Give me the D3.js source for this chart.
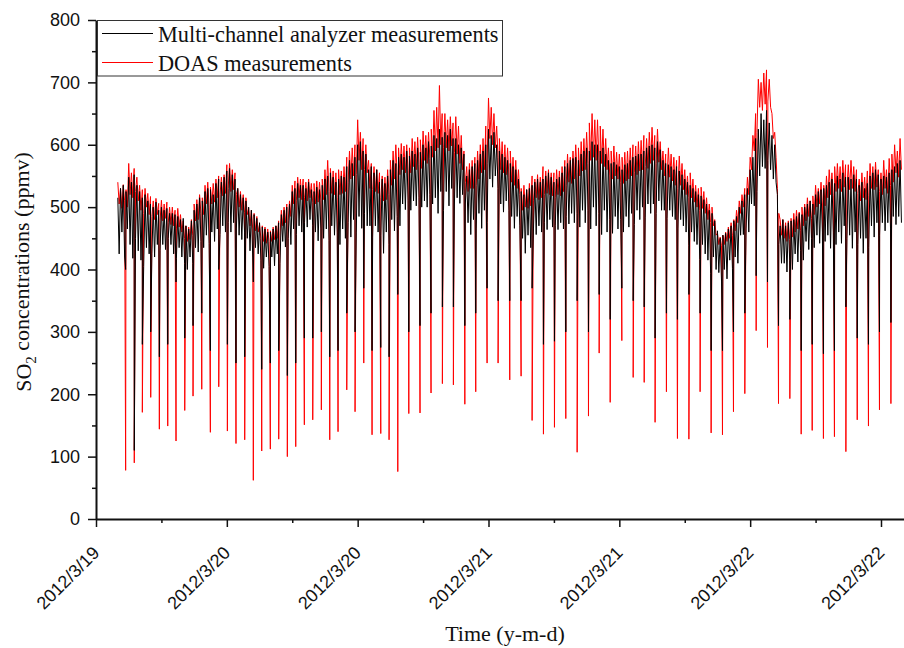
<!DOCTYPE html>
<html>
<head>
<meta charset="utf-8">
<script src="https://cdn.jsdelivr.net/npm/d3@7"></script>
<style>
  body { margin: 0; background: #fff; }
  svg { display: block; }
</style>
</head>
<body>
<div id="chart"></div>
<script>
'use strict'

// readings start at 2012/3/19 14:00, one value every 7.5 minutes (8 per hour)
var startTime = "2012-03-19T12:00:00";
var gridStartHour = 2;
var gridStepHour = 0.125;

var xTickTimes = ["2012-03-19T12:00:00", "2012-03-20T00:00:00", "2012-03-20T12:00:00",
                  "2012-03-21T00:00:00", "2012-03-21T12:00:00", "2012-03-22T00:00:00",
                  "2012-03-22T12:00:00"];
var yTicks = [0, 100, 200, 300, 400, 500, 600, 700, 800];

var seriesNames = ["Multi-channel analyzer measurements", "DOAS measurements"];

// Multi-channel analyzer, ppmv (one row per hour)
var multiVals = [
  515, 425, 530, 460, 535, 420, 525, 465,
  548, 440, 540, 418, 552, 450, 535, 430,
  525, 415, 515, 405, 520, 435, 510, 425,
  505, 425, 500, 420, 508, 440, 495, 430,
  500, 440, 495, 432, 498, 450, 490, 440,
  490, 425, 488, 418, 485, 435, 480, 420,
  482, 410, 470, 400, 465, 420, 478, 410,
  495, 435, 505, 428, 515, 445, 510, 435,
  525, 455, 530, 442, 528, 460, 520, 445,
  538, 465, 545, 456, 540, 470, 548, 460,
  558, 475, 562, 460, 552, 475, 545, 465,
  530, 455, 520, 448, 515, 460, 510, 450,
  500, 430, 495, 420, 488, 435, 482, 425,
  475, 415, 468, 402, 465, 420, 460, 405,
  460, 420, 465, 406, 470, 425, 475, 410,
  488, 445, 495, 436, 500, 450, 505, 440,
  525, 465, 530, 456, 538, 470, 535, 460,
  535, 475, 530, 468, 540, 480, 528, 470,
  525, 460, 532, 446, 528, 465, 535, 450,
  545, 465, 550, 446, 555, 470, 548, 455,
  540, 460, 545, 440, 550, 465, 548, 450,
  565, 475, 575, 452, 570, 480, 580, 460,
  600, 485, 605, 466, 590, 490, 585, 470,
  560, 470, 565, 452, 555, 470, 560, 460,
  540, 455, 545, 426, 538, 460, 550, 440,
  560, 480, 575, 462, 570, 485, 580, 470,
  585, 505, 580, 496, 590, 510, 582, 495,
  590, 510, 585, 502, 595, 515, 588, 500,
  600, 510, 595, 500, 605, 520, 598, 505,
  615, 515, 610, 490, 625, 525, 612, 495,
  620, 525, 615, 502, 625, 530, 610, 505,
  610, 515, 600, 506, 595, 520, 585, 505,
  550, 475, 560, 456, 565, 480, 570, 465,
  575, 490, 585, 466, 590, 495, 600, 475,
  625, 545, 615, 532, 620, 550, 600, 530,
  590, 505, 585, 492, 580, 510, 575, 495,
  570, 485, 565, 466, 560, 485, 545, 470,
  525, 450, 520, 426, 528, 455, 530, 435,
  535, 465, 540, 456, 545, 470, 540, 460,
  545, 475, 550, 464, 555, 480, 548, 468,
  540, 470, 545, 464, 548, 475, 555, 465,
  565, 485, 570, 473, 575, 490, 578, 475,
  580, 490, 575, 468, 585, 495, 590, 475,
  595, 495, 590, 465, 605, 500, 600, 470,
  600, 490, 590, 456, 595, 495, 585, 460,
  575, 480, 570, 458, 572, 485, 568, 465,
  565, 480, 560, 460, 568, 485, 570, 468,
  575, 490, 580, 472, 582, 495, 585, 480,
  585, 500, 590, 484, 595, 505, 598, 490,
  600, 505, 595, 490, 605, 510, 592, 495,
  575, 495, 570, 482, 568, 495, 565, 485,
  560, 480, 565, 465, 558, 480, 552, 470,
  545, 460, 540, 438, 535, 460, 530, 445,
  525, 440, 520, 416, 518, 440, 512, 425,
  505, 415, 495, 394, 490, 420, 478, 400,
  462, 395, 450, 380, 455, 400, 458, 385,
  465, 415, 470, 402, 478, 420, 485, 410,
  500, 455, 510, 456, 520, 465, 530, 460,
  560, 505, 580, 502, 610, 525, 625, 550,
  650, 565, 640, 562, 655, 575, 635, 560,
  615, 545, 600, 540, 520, 440, 470, 410,
  480, 410, 470, 396, 475, 415, 478, 400,
  480, 425, 485, 412, 490, 430, 488, 415,
  500, 445, 505, 432, 510, 450, 505, 435,
  520, 455, 525, 442, 528, 460, 530, 445,
  535, 455, 540, 434, 545, 460, 538, 440,
  550, 460, 545, 442, 555, 470, 548, 450,
  548, 455, 545, 434, 552, 460, 545, 440,
  535, 450, 540, 426, 530, 450, 538, 435,
  550, 470, 555, 452, 560, 475, 552, 455,
  545, 475, 550, 462, 548, 475, 555, 465,
  560, 485, 565, 472, 570, 485, 575, 475
];

// DOAS, ppmv (one row per hour)
var doasVals = [
  540, 505, 530, 498, 536, 510, 528, 500,
  570, 520, 555, 515, 562, 525, 548, 510,
  535, 495, 528, 490, 530, 500, 522, 488,
  517, 485, 510, 480, 514, 488, 506, 478,
  511, 478, 505, 482, 508, 475, 500, 472,
  500, 470, 495, 465, 498, 468, 488, 460,
  478, 450, 470, 445, 468, 448, 480, 455,
  505, 478, 512, 480, 520, 490, 515, 488,
  535, 505, 540, 500, 532, 505, 538, 508,
  545, 515, 550, 520, 548, 518, 552, 522,
  568, 530, 570, 525, 560, 528, 555, 520,
  530, 500, 525, 495, 520, 492, 515, 488,
  498, 470, 495, 465, 490, 462, 485, 460,
  472, 450, 470, 445, 468, 442, 465, 445,
  462, 445, 468, 448, 470, 450, 478, 455,
  495, 470, 500, 475, 505, 478, 510, 485,
  535, 505, 542, 510, 548, 515, 545, 512,
  545, 515, 540, 510, 545, 515, 538, 508,
  538, 505, 542, 508, 540, 510, 545, 512,
  560, 520, 575, 525, 562, 522, 558, 520,
  555, 515, 560, 520, 558, 522, 565, 525,
  580, 540, 590, 545, 595, 550, 600, 552,
  640, 575, 620, 560, 610, 560, 600, 555,
  575, 530, 570, 528, 565, 525, 560, 522,
  555, 515, 550, 510, 548, 512, 560, 520,
  575, 535, 590, 545, 600, 550, 595, 552,
  602, 560, 598, 555, 600, 558, 595, 555,
  610, 565, 605, 560, 612, 568, 608, 562,
  622, 575, 615, 570, 620, 578, 625, 580,
  655, 590, 660, 595, 695, 600, 650, 595,
  650, 595, 640, 590, 645, 598, 635, 588,
  645, 585, 630, 570, 615, 560, 590, 540,
  565, 525, 570, 530, 575, 530, 580, 535,
  590, 545, 600, 555, 610, 560, 630, 570,
  675, 610, 660, 600, 650, 595, 630, 580,
  610, 560, 605, 555, 600, 552, 595, 548,
  590, 540, 580, 535, 575, 530, 560, 520,
  530, 495, 535, 500, 528, 498, 538, 502,
  550, 510, 545, 515, 552, 512, 548, 515,
  565, 520, 558, 522, 560, 520, 555, 518,
  555, 515, 560, 520, 558, 518, 565, 525,
  575, 535, 585, 540, 580, 538, 590, 545,
  600, 555, 595, 550, 605, 558, 610, 560,
  620, 570, 635, 575, 650, 580, 640, 575,
  640, 575, 630, 570, 625, 565, 610, 560,
  595, 550, 590, 545, 598, 550, 588, 545,
  585, 540, 580, 538, 588, 542, 590, 545,
  595, 550, 600, 555, 598, 552, 605, 558,
  607, 560, 615, 565, 610, 562, 620, 570,
  628, 575, 615, 570, 625, 572, 605, 560,
  590, 550, 585, 545, 595, 548, 585, 542,
  580, 535, 575, 530, 582, 535, 570, 528,
  560, 520, 550, 515, 555, 515, 545, 508,
  535, 500, 530, 495, 532, 498, 525, 490,
  515, 480, 505, 475, 500, 470, 480, 455,
  458, 440, 452, 438, 455, 440, 460, 445,
  468, 450, 475, 455, 480, 462, 495, 475,
  510, 490, 520, 500, 530, 505, 548, 520,
  580, 560, 615, 590, 650, 620, 705, 660,
  700, 655, 715, 665, 720, 670, 705, 660,
  650, 610, 620, 580, 530, 490, 480, 455,
  480, 450, 475, 445, 478, 448, 482, 452,
  490, 460, 495, 465, 492, 462, 500, 470,
  505, 478, 515, 485, 510, 482, 518, 488,
  535, 500, 530, 505, 540, 505, 535, 502,
  550, 515, 560, 520, 555, 518, 565, 525,
  570, 530, 565, 525, 575, 532, 568, 528,
  568, 528, 575, 530, 565, 525, 560, 522,
  545, 510, 555, 515, 548, 512, 558, 518,
  570, 530, 565, 528, 572, 532, 560, 525,
  555, 520, 575, 530, 560, 522, 578, 535,
  585, 540, 600, 555, 590, 548, 610, 560
];

// short calibration dips, hours after 2012/3/19 12:00
var dipHours = [
  2.72, 3.51, 4.25, 5.02, 5.81, 6.58, 7.34, 8.14, 8.90, 9.70, 10.49, 11.26,
  12.05, 12.84, 13.64, 14.43, 15.20, 15.99, 16.76, 17.55, 18.32, 19.11,
  19.88, 20.67, 21.44, 22.20, 23.00, 23.76, 24.56, 25.32, 26.12, 26.88, 27.68,
  28.69, 29.72, 30.73, 31.77, 32.78, 33.83, 34.83, 35.87, 36.88,
  37.95, 38.99, 40.00, 41.04, 42.05, 43.09, 44.13, 45.17, 46.15, 47.16, 48.23,
  49.27, 50.28, 51.28, 52.32, 53.33, 54.38,
  55.41, 56.42, 57.46, 58.47, 59.51, 60.55, 61.59, 62.60, 63.64, 64.68, 65.69,
  66.72, 67.73, 68.78, 69.82, 70.85, 71.86, 72.91
];
var doasDips = [
  78, 90, 171, 195, 144, 149, 125, 174, 197, 208, 139, 212,
  141, 121, 127, 62, 109, 112, 128, 100, 116, 151,
  159, 175, 127, 140, 207, 172, 250, 135, 137, 127, 76,
  169, 170, 202, 217, 215, 184, 204, 250, 250,
  223, 229, 158, 136, 147, 161, 107, 165, 266, 187, 286,
  227, 219, 155, 204, 129, 128,
  204, 138, 135, 172, 201, 302, 275, 185, 193, 136, 142,
  129, 132, 108, 159, 149, 175, 185
];
var multiDips = [
  400, 110, 280, 300, 260, 280, 380, 290, 310, 330, 270, 400,
  280, 250, 260, 380, 240, 250, 270, 230, 250, 290,
  290, 300, 260, 270, 330, 300, 370, 270, 275, 260, 360,
  300, 310, 330, 340, 340, 310, 330, 370, 350,
  350, 350, 370, 280, 285, 300, 350, 300, 360, 320, 370,
  350, 340, 290, 330, 320, 360,
  330, 270, 270, 300, 330, 390, 380, 310, 320, 270, 280,
  265, 270, 340, 290, 280, 300, 315
];

var width = 904, height = 648;
var t0 = new Date(startTime);
function atHour(h) { return new Date(t0.getTime() + h * 3600000); }

var x = d3.scaleTime().domain([t0, atHour(74.11)]).range([96, 904]);
var y = d3.scaleLinear().domain([0, 800]).range([519, 20]);

var svg = d3.select("#chart").append("svg")
    .attr("width", width).attr("height", height)
    .style("background", "#fff");

function buildSeries(vals, dips) {
    var pts = vals.map(function (v, i) {
        return { t: atHour(gridStartHour + i * gridStepHour), v: v };
    });
    dipHours.forEach(function (h, i) {
        pts.push({ t: atHour(h), v: dips[i] });
    });
    pts.sort(function (a, b) { return a.t - b.t; });
    return pts;
}

var line = d3.line()
    .x(function (d) { return x(d.t); })
    .y(function (d) { return y(d.v); });

// DOAS goes underneath, analyzer trace is drawn over it
svg.append("path")
    .datum(buildSeries(doasVals, doasDips))
    .attr("fill", "none").attr("stroke", "#ff0000").attr("stroke-width", 1)
    .attr("d", line);

svg.append("path")
    .datum(buildSeries(multiVals, multiDips))
    .attr("fill", "none").attr("stroke", "#000").attr("stroke-width", 1)
    .attr("d", line);

// axes
var xMajor = xTickTimes.map(function (s) { return new Date(s); });
var xMinor = xMajor.map(function (d) { return new Date(d.getTime() + 6 * 3600000); })
    .filter(function (d) { return d <= x.domain()[1]; });
var yMinor = yTicks.slice(0, -1).map(function (v) { return v + 50; });

var xAxis = svg.append("g")
    .attr("transform", "translate(0,519)")
    .call(d3.axisBottom(x).tickValues(xMajor).tickSize(8).tickSizeOuter(0)
        .tickFormat(d3.timeFormat("%Y/%-m/%-d")));
xAxis.selectAll(".tick text")
    .attr("x", 0).attr("y", 0).attr("dy", 0)
    .attr("transform", "translate(4,35) rotate(-45)")
    .style("text-anchor", "end");

svg.append("g")
    .attr("transform", "translate(0,519)")
    .call(d3.axisBottom(x).tickValues(xMinor).tickSize(4).tickSizeOuter(0).tickFormat(""))
    .select(".domain").remove();

var yAxis = svg.append("g")
    .attr("transform", "translate(96,0)")
    .call(d3.axisLeft(y).tickValues(yTicks).tickSize(8).tickPadding(8).tickSizeOuter(0));

svg.append("g")
    .attr("transform", "translate(96,0)")
    .call(d3.axisLeft(y).tickValues(yMinor).tickSize(4).tickSizeOuter(0).tickFormat(""))
    .select(".domain").remove();

svg.selectAll(".domain").attr("stroke", "#111").attr("stroke-width", 2);
svg.selectAll(".tick line").attr("stroke", "#111").attr("stroke-width", 1.5);
svg.selectAll(".tick text")
    .attr("fill", "#111")
    .style("font-family", "'Liberation Sans', Arial, sans-serif")
    .style("font-size", "18px");

// axis titles
var serif = "'Liberation Serif', 'Times New Roman', serif";
svg.append("text")
    .attr("x", 505).attr("y", 641)
    .attr("text-anchor", "middle")
    .style("font-family", serif).style("font-size", "22px").attr("fill", "#111")
    .text("Time (y-m-d)");

var yTitle = svg.append("text")
    .attr("transform", "translate(31,272) rotate(-90)")
    .attr("text-anchor", "middle")
    .style("font-family", serif).style("font-size", "22px").attr("fill", "#111");
yTitle.append("tspan").text("SO");
yTitle.append("tspan").attr("dy", "0.3em").style("font-size", "15px").text("2");
yTitle.append("tspan").attr("dy", "-0.3em").text(" concentrations (ppmv)");

// legend
var legend = svg.append("g");
legend.append("rect")
    .attr("x", 97.5).attr("y", 20.5).attr("width", 405).attr("height", 55.5)
    .attr("fill", "#fff").attr("stroke", "#333").attr("stroke-width", 1);
var legendColors = ["#000", "#ff0000"];
seriesNames.forEach(function (name, i) {
    var ly = 33.5 + i * 29;
    legend.append("line")
        .attr("x1", 102).attr("x2", 153).attr("y1", ly).attr("y2", ly)
        .attr("stroke", legendColors[i]).attr("stroke-width", 1);
    legend.append("text")
        .attr("x", 158).attr("y", ly + 8)
        .style("font-family", serif).style("font-size", "22.3px").attr("fill", "#111")
        .text(name);
});
</script>
</body>
</html>
